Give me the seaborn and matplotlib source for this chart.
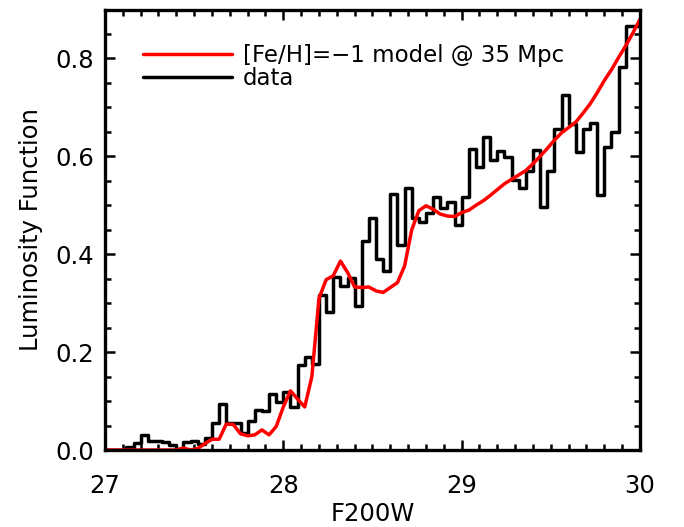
import numpy as np
import pandas as pd
import matplotlib
matplotlib.use("Agg")
import matplotlib.pyplot as plt
from matplotlib.lines import Line2D
from matplotlib.ticker import MultipleLocator, FormatStrFormatter
import seaborn as sns

# Observed luminosity function: F200W bins of width 0.04 mag from 27.0 to 30.0
bin_width = 0.04
bin_edges = [round(27.0 + bin_width * i, 4) for i in range(76)]
data_lf = [
    0.000, 0.000, 0.000, 0.006, 0.015, 0.030, 0.018, 0.018, 0.016, 0.010,
    0.002, 0.016, 0.018, 0.012, 0.024, 0.056, 0.095, 0.055, 0.055, 0.035,
    0.060, 0.082, 0.080, 0.115, 0.098, 0.119, 0.087, 0.174, 0.189, 0.175,
    0.317, 0.282, 0.353, 0.336, 0.351, 0.294, 0.427, 0.474, 0.390, 0.366,
    0.524, 0.419, 0.535, 0.473, 0.466, 0.485, 0.516, 0.494, 0.506, 0.460,
    0.517, 0.616, 0.578, 0.640, 0.592, 0.610, 0.598, 0.552, 0.535, 0.571,
    0.613, 0.497, 0.570, 0.656, 0.725, 0.667, 0.609, 0.655, 0.668, 0.521,
    0.620, 0.650, 0.783, 0.867, 0.867,
]

# Model luminosity function ([Fe/H] = -1 at 35 Mpc), sampled on the bin edges
model_mag = bin_edges
model_lf = [
    0.000, 0.000, 0.000, 0.000, 0.000, 0.000, 0.000, 0.000, 0.000, 0.000,
    0.000, 0.004, 0.000, 0.003, 0.013, 0.022, 0.022, 0.053, 0.052, 0.033,
    0.029, 0.031, 0.041, 0.031, 0.048, 0.088, 0.121, 0.104, 0.088, 0.150,
    0.310, 0.348, 0.356, 0.386, 0.363, 0.333, 0.332, 0.333, 0.325, 0.322,
    0.332, 0.342, 0.376, 0.450, 0.489, 0.499, 0.492, 0.482, 0.478, 0.477,
    0.485, 0.490, 0.500, 0.509, 0.520, 0.532, 0.544, 0.553, 0.562, 0.571,
    0.585, 0.600, 0.616, 0.633, 0.648, 0.659, 0.670, 0.688, 0.707, 0.730,
    0.755, 0.777, 0.802, 0.826, 0.852, 0.880,
]

legend_labels = ["[Fe/H]=\u22121 model @ 35 Mpc", "data"]
x_ticks = [27, 28, 29, 30]
y_ticks = [0.0, 0.2, 0.4, 0.6, 0.8]

sns.set_theme(style="ticks")
plt.rcParams["font.family"] = ["DejaVu Sans"]
plt.rcParams["text.color"] = "black"
plt.rcParams["axes.labelcolor"] = "black"
plt.rcParams["xtick.color"] = "black"
plt.rcParams["ytick.color"] = "black"

edges_arr = np.array(bin_edges)
hist_df = pd.DataFrame({
    "mag": (edges_arr[:-1] + edges_arr[1:]) / 2,
    "lf": data_lf,
})
model_df = pd.DataFrame({"mag": model_mag, "lf": model_lf})

fig = plt.figure(figsize=(6.84, 5.27), dpi=100)
ax = fig.add_axes([105 / 684, 1 - 450 / 527, 535 / 684, 440.5 / 527])

line_w = 2.5
sns.histplot(data=hist_df, x="mag", weights="lf", bins=bin_edges,
             element="step", fill=False, color="black", linewidth=line_w,
             ax=ax)
sns.lineplot(data=model_df, x="mag", y="lf", color="#ff0000",
             linewidth=line_w, ax=ax)

ax.set_xlim(27, 30)
ax.set_ylim(0, 0.9)
ax.set_xticks(x_ticks)
ax.set_yticks(y_ticks)
ax.xaxis.set_minor_locator(MultipleLocator(0.1))
ax.yaxis.set_minor_locator(MultipleLocator(0.05))
ax.yaxis.set_major_formatter(FormatStrFormatter("%.1f"))

ax.tick_params(which="both", direction="in", top=True, right=True,
               width=1.8, colors="black", labelsize=17.5)
ax.tick_params(which="major", length=7.5)
ax.tick_params(which="minor", length=4.0)
ax.tick_params(axis="x", which="major", pad=17)
ax.tick_params(axis="y", which="major", pad=8)

for spine in ax.spines.values():
    spine.set_visible(True)
    spine.set_linewidth(2.4)
    spine.set_color("black")

ax.set_xlabel("F200W", fontsize=17.5, labelpad=3, color="black")
ax.set_ylabel("Luminosity Function", fontsize=17.5, labelpad=9,
              color="black")

handles = [Line2D([], [], color="#ff0000", linewidth=line_w),
           Line2D([], [], color="black", linewidth=line_w)]
leg = ax.legend(handles, legend_labels, loc="upper left", frameon=False,
                fontsize=16.5, handlelength=3.9, handletextpad=0.45,
                labelspacing=0.0, borderpad=0, borderaxespad=0,
                bbox_to_anchor=(0.071, 0.922))
for txt in leg.get_texts():
    txt.set_color("black")

fig.savefig("out.png", dpi=100)
